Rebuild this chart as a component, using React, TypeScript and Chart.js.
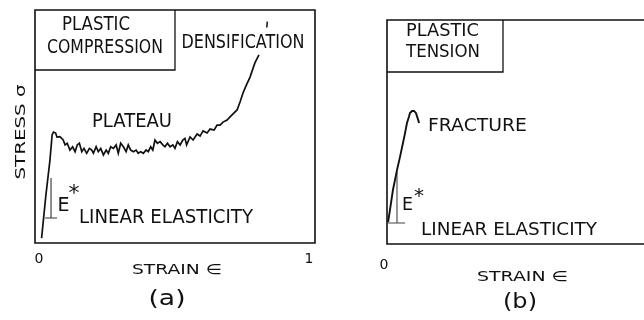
import React, { useEffect, useRef } from "react";
import { Chart, registerables } from "chart.js";

Chart.register(...registerables);

// ---------- Panel (a): plastic compression ----------
const strainA = [
  0.017, 0.033, 0.048, 0.056, 0.061, 0.069, 0.074,
  0.085, 0.097, 0.104, 0.112, 0.122, 0.132, 0.141, 0.149, 0.157, 0.166,
  0.174, 0.184, 0.194, 0.203, 0.209, 0.219, 0.227, 0.236, 0.246, 0.256,
  0.264, 0.273, 0.283, 0.293, 0.301, 0.310, 0.320, 0.330, 0.338, 0.347,
  0.357, 0.367, 0.375, 0.384, 0.394, 0.404, 0.412, 0.421, 0.429, 0.437,
  0.446, 0.456, 0.466, 0.474, 0.483, 0.493, 0.503, 0.511, 0.520, 0.530,
  0.540, 0.548, 0.554, 0.567, 0.578, 0.593, 0.604, 0.615, 0.630, 0.641,
  0.656, 0.667, 0.678, 0.689, 0.704, 0.715, 0.726, 0.741, 0.752, 0.763,
  0.774, 0.789, 0.807, 0.822,
];
const stressA = [
  2.1, 20.6, 35.6, 46.4, 47.6, 47.2, 45.5,
  45.6, 44.2, 42.1, 42.8, 39.9, 41.3, 39.2, 42.1, 42.8, 39.2,
  40.6, 38.5, 40.6, 39.9, 38.5, 41.3, 39.2, 40.6, 37.8, 39.9,
  38.5, 41.3, 40.6, 42.1, 38.5, 42.8, 41.3, 39.2, 42.1, 39.9,
  39.2, 39.9, 38.5, 39.2, 38.5, 39.9, 39.2, 41.3, 39.9, 44.2,
  42.8, 43.5, 42.1, 41.3, 42.8, 41.3, 42.1, 40.6, 43.5, 42.1,
  44.2, 44.9, 42.1, 45.5, 44.2, 46.8, 45.9, 48.1, 47.2, 48.9,
  48.5, 50.6, 50.6, 51.9, 52.8, 54.1, 55.4, 57.1, 60.5, 64.4,
  67.4, 71.2, 77.3, 80.7,
];
// small mark above the densification branch
const markStrainA = [0.851, 0.853];
const markStressA = [92.5, 95.0];
// E* construction (a)
const eStarStrainA = [0.052, 0.052, 0.030, 0.074];
const eStarStressA = [27.9, 10.7, 10.7, 10.7];

// ---------- Panel (b): plastic tension ----------
const strainB = [
  0.004, 0.011, 0.022, 0.037, 0.048, 0.056, 0.067, 0.074, 0.081, 0.085,
  0.093, 0.100, 0.107, 0.111, 0.119,
];
const stressB = [
  9.8, 15.2, 24.1, 33.0, 38.8, 43.3, 49.6, 54.0, 56.7, 58.5,
  59.4, 59.4, 58.5, 57.1, 54.0,
];
const eStarStrainB = [0.037, 0.037, 0.004, 0.067];
const eStarStressB = [32.1, 9.4, 9.4, 9.4];

// axis tick labels
const strainTicksA = ["0", "1"];
const strainTickValuesA = [0, 1];
const strainTicksB = ["0"];
const strainTickValuesB = [0];

const SANS = '"DejaVu Sans", Verdana, sans-serif';

type Label = {
  text: string;
  cx: number; // center x (canvas px)
  cy: number; // center y
  w?: number; // target width (glyphs stretched / squeezed to fit)
  size: number;
  rot?: boolean;
};

function pts(xs: number[], ys: number[]) {
  return xs.map((x, i) => ({ x, y: ys[i] }));
}

function drawLabel(ctx: CanvasRenderingContext2D, l: Label) {
  ctx.save();
  ctx.fillStyle = "#111";
  ctx.font = `${l.size}px ${SANS}`;
  ctx.textBaseline = "middle";
  ctx.textAlign = "center";
  const m = ctx.measureText(l.text).width;
  const sx = l.w ? l.w / m : 1;
  ctx.translate(l.cx, l.cy);
  if (l.rot) ctx.rotate(-Math.PI / 2);
  ctx.scale(sx, 1);
  ctx.fillText(l.text, 0, 0);
  ctx.restore();
}

function makeFramePlugin(opts: {
  box: { right: number; bottom: number };
  noRight?: boolean;
  labels: Label[];
  ticks: string[];
  tickValues: number[];
  tickY: number;
  tickDx: number;
  tickSize: number;
}) {
  return {
    id: "frame",
    afterDraw(chart: any) {
      const ctx: CanvasRenderingContext2D = chart.ctx;
      const a = chart.chartArea;
      ctx.save();
      ctx.strokeStyle = "#111";
      ctx.lineWidth = 1.6;
      ctx.beginPath();
      if (opts.noRight) {
        ctx.moveTo(chart.width, a.top);
        ctx.lineTo(a.left, a.top);
        ctx.lineTo(a.left, a.bottom);
        ctx.lineTo(chart.width, a.bottom);
      } else {
        ctx.rect(a.left, a.top, a.right - a.left, a.bottom - a.top);
      }
      ctx.stroke();
      ctx.lineWidth = 1.3;
      ctx.beginPath();
      ctx.moveTo(a.left, opts.box.bottom);
      ctx.lineTo(opts.box.right, opts.box.bottom);
      ctx.lineTo(opts.box.right, a.top);
      ctx.stroke();
      ctx.restore();
      const xs = chart.scales.x;
      opts.ticks.forEach((t, i) => {
        drawLabel(ctx, {
          text: t,
          cx: xs.getPixelForValue(opts.tickValues[i]) + opts.tickDx,
          cy: opts.tickY,
          size: opts.tickSize,
        });
      });
      opts.labels.forEach((l) => drawLabel(ctx, l));
    },
  };
}

function useChart(ref: React.RefObject<HTMLCanvasElement>, build: () => any) {
  useEffect(() => {
    if (!ref.current) return;
    const chart = new Chart(ref.current, build());
    return () => chart.destroy();
  }, []);
}

const lineDs = (data: any[], width: number, color: string) => ({
  data,
  showLine: true,
  borderColor: color,
  borderWidth: width,
  pointRadius: 0,
  tension: 0,
  fill: false,
});

export default function App() {
  const refA = useRef<HTMLCanvasElement>(null);
  const refB = useRef<HTMLCanvasElement>(null);

  useChart(refA, () => ({
    type: "scatter",
    data: {
      datasets: [
        lineDs(pts(strainA, stressA), 1.7, "#111"),
        lineDs(pts(markStrainA, markStressA), 1.5, "#111"),
        lineDs(pts(eStarStrainA, eStarStressA), 1.1, "#333"),
      ],
    },
    options: {
      animation: false,
      responsive: false,
      devicePixelRatio: 1,
      layout: { padding: { left: 35, top: 10, right: 15, bottom: 77 } },
      plugins: { legend: { display: false }, tooltip: { enabled: false } },
      scales: {
        x: { type: "linear", display: false, min: -0.0074, max: 1.0296 },
        y: { type: "linear", display: false, min: 0, max: 100 },
      },
    },
    plugins: [
      makeFramePlugin({
        box: { right: 175, bottom: 70 },
        ticks: strainTicksA,
        tickValues: strainTickValuesA,
        tickY: 259,
        tickDx: 2,
        tickSize: 14,
        labels: [
          { text: "PLASTIC", cx: 96, cy: 25, w: 68, size: 19 },
          { text: "COMPRESSION", cx: 105, cy: 48, w: 116, size: 19 },
          { text: "DENSIFICATION", cx: 243, cy: 43, w: 123, size: 19 },
          { text: "PLATEAU", cx: 132, cy: 122, w: 80, size: 19 },
          { text: "E", cx: 63.5, cy: 206, w: 12, size: 19 },
          { text: "*", cx: 74, cy: 194, size: 22 },
          { text: "LINEAR ELASTICITY", cx: 166, cy: 218, w: 174, size: 19 },
          { text: "STRAIN \u2208", cx: 177, cy: 270, w: 90, size: 14 },
          { text: "(a)", cx: 167, cy: 299, w: 37, size: 22 },
          { text: "STRESS \u03c3", cx: 21, cy: 132, w: 95, size: 14, rot: true },
        ],
      }),
    ],
  }));

  useChart(refB, () => ({
    type: "scatter",
    data: {
      datasets: [
        lineDs(pts(strainB, stressB), 1.9, "#111"),
        lineDs(pts(eStarStrainB, eStarStressB), 1.1, "#444"),
      ],
    },
    options: {
      animation: false,
      responsive: false,
      devicePixelRatio: 1,
      layout: { padding: { left: 57, top: 20, right: 0, bottom: 76 } },
      plugins: { legend: { display: false }, tooltip: { enabled: false } },
      scales: {
        x: { type: "linear", display: false, min: 0, max: 0.952 },
        y: { type: "linear", display: false, min: 0, max: 100 },
      },
    },
    plugins: [
      makeFramePlugin({
        box: { right: 173, bottom: 72 },
        noRight: true,
        ticks: strainTicksB,
        tickValues: strainTickValuesB,
        tickY: 265,
        tickDx: -3,
        tickSize: 14,
        labels: [
          { text: "PLASTIC", cx: 112.5, cy: 32, w: 73, size: 17 },
          { text: "TENSION", cx: 113, cy: 53, w: 74, size: 17 },
          { text: "FRACTURE", cx: 147.5, cy: 127, w: 99, size: 17 },
          { text: "E", cx: 77.5, cy: 205, w: 11, size: 18 },
          { text: "*", cx: 89, cy: 197, size: 20 },
          { text: "LINEAR ELASTICITY", cx: 179, cy: 230, w: 176, size: 18 },
          { text: "STRAIN \u2208", cx: 192.5, cy: 277, w: 91, size: 14 },
          { text: "(b)", cx: 190, cy: 302, w: 34, size: 22 },
        ],
      }),
    ],
  }));

  return (
    <div
      style={{
        position: "fixed",
        left: 0,
        top: 0,
        width: 644,
        height: 320,
        background: "#fff",
        overflow: "hidden",
      }}
    >
      <canvas
        ref={refA}
        width={330}
        height={320}
        style={{ position: "absolute", left: 0, top: 0, width: 330, height: 320 }}
      />
      <canvas
        ref={refB}
        width={314}
        height={320}
        style={{ position: "absolute", left: 330, top: 0, width: 314, height: 320 }}
      />
    </div>
  );
}
